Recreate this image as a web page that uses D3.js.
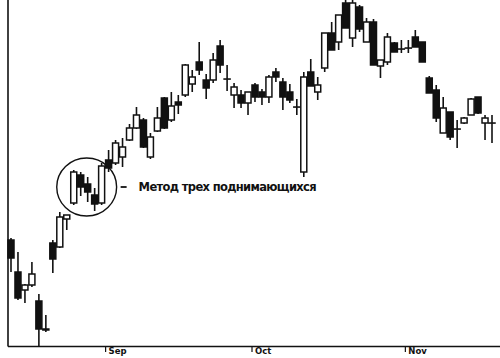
<!DOCTYPE html>
<html>
<head>
    <meta charset="utf-8">
    <title>candles</title>
    <script type="text/javascript" src="https://cdnjs.cloudflare.com/ajax/libs/d3/7.8.5/d3.min.js"></script>
    <style>
      body { margin: 0; background: #fff; }
      svg { display: block; }
    </style>
</head>
<body>
<script type="text/javascript">

// daily prices, last weeks of Aug through mid Nov
var opens  = [16.0,12.8,11.0,11.5, 9.9, 7.1,15.7,15.3,18.1,19.7,
              22.5,21.6,20.5,19.7,24.0,23.7,24.3,26.0,27.2,28.0,
              24.3,26.9,30.2,28.0,29.8,30.5,31.6,33.8,32.0,32.0,
              35.4,32.1,30.5,30.5,29.7,31.5,30.8,30.3,32.8,31.8,
              30.8,29.3,22.8,32.8,30.8,33.2,36.7,35.8,39.7,36.2,
              39.3,35.8,37.8,33.4,33.8,35.7,35.1,35.2,36.3,35.8,
              32.2,31.0,26.7,28.8,27.1,27.7,28.5,30.3,27.7,27.7];
var highs  = [16.2,14.8,11.6,13.8,10.6, 8.5,16.0,18.8,18.5,23.0,
              22.8,22.3,21.2,23.7,25.0,26.0,26.2,27.6,29.3,28.2,
              26.7,29.3,30.3,30.8,30.5,33.6,33.0,35.8,32.6,34.7,
              36.0,33.5,31.7,31.0,30.8,31.7,31.1,32.5,33.2,32.2,
              31.6,30.1,32.8,34.1,32.3,36.7,37.8,38.5,40.0,40.0,
              39.5,38.2,38.1,34.0,36.7,35.8,36.0,36.0,37.0,35.8,
              32.4,31.5,30.3,28.8,28.0,28.3,30.2,30.3,28.5,28.5];
var lows   = [12.8,10.0, 9.7,11.3, 5.4, 6.8,12.7,15.2,17.0,19.5,
              20.4,19.8,18.9,19.5,22.8,23.5,23.3,25.9,27.1,25.2,
              24.1,26.8,27.1,27.8,28.6,30.3,30.8,32.5,30.1,31.7,
              32.7,30.9,29.2,29.2,28.5,29.8,29.5,29.7,31.8,29.0,
              29.7,28.5,22.3,31.4,30.0,32.8,35.0,35.0,37.2,35.3,
              36.8,35.8,33.5,32.2,33.5,34.8,34.7,34.7,35.3,33.8,
              30.7,27.8,26.7,26.0,25.2,27.6,28.5,28.6,26.0,25.7];
var closes = [14.2,10.2,11.5,12.6, 7.1, 7.0,14.1,18.3,18.5,22.8,
              21.3,20.8,19.6,23.4,23.2,25.7,25.3,27.2,28.5,25.3,
              26.3,28.2,27.2,29.4,29.5,33.5,32.3,33.0,31.2,34.0,
              33.5,32.1,31.3,29.7,30.8,30.3,30.3,32.3,32.3,30.3,
              30.0,29.3,32.3,31.4,31.5,36.7,35.0,38.5,37.2,39.7,
              37.1,37.8,33.5,34.0,36.3,34.8,35.1,35.2,35.3,33.8,
              30.7,28.2,29.2,26.3,27.1,28.2,30.1,28.7,28.2,27.7];

// first trading day of each month (index) and its label
var monthStarts = [14, 35, 57];
var monthLabels = ["Sep", "Oct", "Nov"];

var note = "Метод трех поднимающихся";
var patternDays = [9, 13];   // the circled candles

var width = 500, height = 358;
var ink = "#111";

var svg = d3.select("body").append("svg")
    .attr("width", width).attr("height", height);

var x = d3.scaleLinear().domain([0, opens.length - 1]).range([11, 492]);
var y = d3.scaleLinear().domain([5.4, 40]).range([346, 0]);

drawFrame();
drawCandles();
drawNote();

function drawFrame(){
    svg.append("line")
        .attr("x1", 8).attr("x2", 8).attr("y1", 0).attr("y2", 346.5)
        .attr("stroke", ink).attr("stroke-width", 1.6);
    svg.append("line")
        .attr("x1", 8).attr("x2", width).attr("y1", 346.5).attr("y2", 346.5)
        .attr("stroke", ink).attr("stroke-width", 1.6);

    // ticks sit on the boundary before the first day of the month
    var axis = d3.axisBottom(x)
        .tickValues(monthStarts.map(function(d){ return d - 0.5 }))
        .tickSize(5)
        .tickFormat(function(d, i){ return monthLabels[i] });

    var g = svg.append("g")
        .attr("transform", "translate(0,347)")
        .call(axis);
    g.select(".domain").remove();
    g.selectAll(".tick line").attr("stroke", ink).attr("stroke-width", 1.2);
    g.selectAll(".tick text")
        .attr("x", 3).attr("y", 1).attr("dy", "0.71em")
        .attr("text-anchor", "start")
        .attr("fill", ink)
        .style("font-family", "'DejaVu Sans', sans-serif")
        .style("font-size", "8.5px")
        .style("font-weight", "bold");
}

function drawCandles(){
    var half = 3;
    var days = d3.range(opens.length);

    var c = svg.append("g").selectAll("g")
        .data(days)
        .enter()
        .append("g");

    c.append("line")
        .attr("x1", function(i){ return x(i) })
        .attr("x2", function(i){ return x(i) })
        .attr("y1", function(i){ return y(highs[i]) })
        .attr("y2", function(i){ return y(lows[i]) })
        .attr("stroke", ink)
        .attr("stroke-width", 1.6);

    c.append("rect")
        .attr("x", function(i){ return x(i) - half })
        .attr("width", half * 2)
        .attr("y", function(i){ return y(Math.max(opens[i], closes[i])) })
        .attr("height", function(i){
            return Math.max(0.1, Math.abs(y(opens[i]) - y(closes[i])))
        })
        .attr("fill", function(i){ return closes[i] >= opens[i] ? "#fff" : ink })
        .attr("stroke", ink)
        .attr("stroke-width", 1.5);
}

function drawNote(){
    var x0 = x(patternDays[0]) - 17, x1 = x(patternDays[1]) + 15;
    var top = y(d3.max(highs.slice(patternDays[0], patternDays[1] + 1)));
    var bot = y(d3.min(lows.slice(patternDays[0], patternDays[1] + 1)));
    var cx = (x0 + x1) / 2, cy = (top + bot) / 2;

    svg.append("ellipse")
        .attr("cx", cx).attr("cy", cy)
        .attr("rx", (x1 - x0) / 2).attr("ry", (bot - top) / 2 + 5)
        .attr("fill", "none")
        .attr("stroke", ink)
        .attr("stroke-width", 1.4);

    svg.append("line")
        .attr("x1", x1 + 4).attr("x2", x1 + 10)
        .attr("y1", cy).attr("y2", cy)
        .attr("stroke", ink).attr("stroke-width", 1.8);

    svg.append("text")
        .attr("x", x1 + 22).attr("y", cy + 4)
        .attr("textLength", 178)
        .attr("fill", ink)
        .style("font-family", "'DejaVu Sans', sans-serif")
        .style("font-size", "11.5px")
        .style("font-weight", "bold")
        .text(note);
}

</script>
</body>
</html>
